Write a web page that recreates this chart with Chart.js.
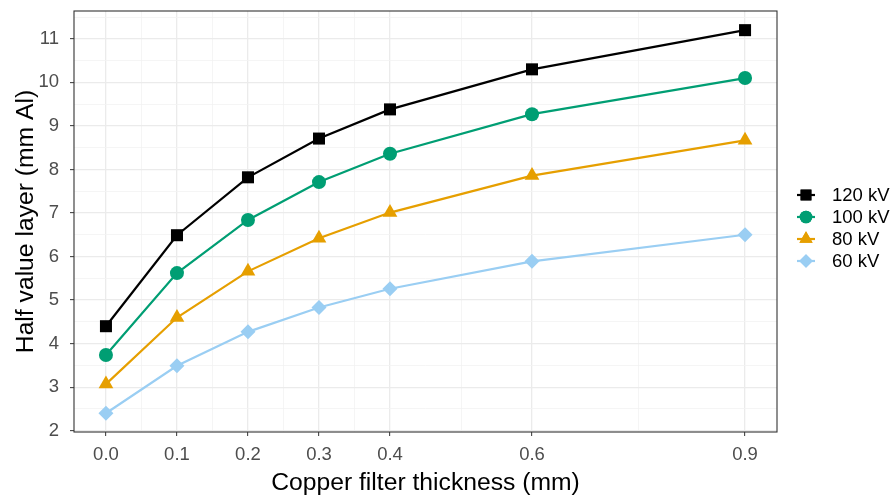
<!DOCTYPE html>
<html>
<head>
<meta charset="utf-8">
<script src="https://cdn.jsdelivr.net/npm/chart.js@4/dist/chart.umd.min.js"></script>
<style>
  html, body { margin: 0; padding: 0; background: #fff; }
  #wrap { width: 895px; height: 498px; }
</style>
</head>
<body>
<div id="wrap"><canvas id="chart" width="895" height="498"></canvas></div>
<script>
'use strict'

const thickness = [0.0, 0.1, 0.2, 0.3, 0.4, 0.6, 0.9]
const hvl120 = [4.40, 6.49, 7.82, 8.71, 9.38, 10.30, 11.20]
const hvl100 = [3.74, 5.62, 6.84, 7.71, 8.36, 9.27, 10.10]
const hvl80 = [3.07, 4.60, 5.66, 6.42, 7.01, 7.86, 8.67]
const hvl60 = [2.40, 3.49, 4.27, 4.83, 5.26, 5.89, 6.50]

const seriesNames = ['120 kV', '100 kV', '80 kV', '60 kV']
const xTicks = [0.0, 0.1, 0.2, 0.3, 0.4, 0.6, 0.9]
const xLabels = ['0.0', '0.1', '0.2', '0.3', '0.4', '0.6', '0.9']
const xMinor = [0.05, 0.15, 0.25, 0.35, 0.5, 0.75]
const yTicks = [2, 3, 4, 5, 6, 7, 8, 9, 10, 11]
const yMinor = [2.5, 3.5, 4.5, 5.5, 6.5, 7.5, 8.5, 9.5, 10.5, 11.5]

const colors = ['#000000', '#009E73', '#E69F00', '#9ACEF3']
const shapes = ['rect', 'circle', 'triangle', 'rectRot']
const radii = [8.5, 7, 8.5, 7.5]
const values = [hvl120, hvl100, hvl80, hvl60]

const FONT = '"Liberation Sans", Arial, sans-serif'

const ctx = document.getElementById('chart')

const datasets = values.map((vals, i) => ({
  label: seriesNames[i],
  data: thickness.map((x, j) => ({ x: x, y: vals[j] })),
  borderColor: colors[i],
  backgroundColor: colors[i],
  borderWidth: 2.2,
  pointStyle: shapes[i],
  pointRadius: radii[i],
  pointHoverRadius: radii[i],
  pointBorderWidth: 0,
  tension: 0,
}))

// ggplot-like panel border and legend
const panelPlugin = {
  id: 'panel',
  afterDraw(chart) {
    const c = chart.ctx
    const a = chart.chartArea
    c.save()
    c.strokeStyle = '#333333'
    c.lineWidth = 1.1
    c.strokeRect(a.left, a.top, a.right - a.left, a.bottom - a.top)

    const x0 = 806
    const rowY = [195, 217, 239, 261]
    c.font = '18.5px ' + FONT
    c.textBaseline = 'middle'
    c.textAlign = 'left'
    seriesNames.forEach((name, i) => {
      const y = rowY[i]
      c.strokeStyle = colors[i]
      c.lineWidth = 2.2
      c.beginPath()
      c.moveTo(x0 - 9, y)
      c.lineTo(x0 + 9, y)
      c.stroke()
      c.fillStyle = colors[i]
      Chart.helpers.drawPoint(c, {
        pointStyle: shapes[i],
        radius: radii[i] * 0.9,
        rotation: 0,
        borderWidth: 0,
      }, x0, y)
      c.fill()
      c.fillStyle = '#000000'
      c.fillText(name, 832, y + 1)
    })
    c.restore()
  }
}

const isMinor = (v, list) => list.some(m => Math.abs(m - v) < 1e-6)

const chart = new Chart(ctx, {
  type: 'line',
  data: { datasets: datasets },
  options: {
    responsive: false,
    animation: false,
    layout: { padding: { top: 11, right: 118, left: 0, bottom: 0 } },
    plugins: {
      legend: { display: false },
      tooltip: { enabled: false },
    },
    scales: {
      x: {
        type: 'linear',
        min: -0.045,
        max: 0.945,
        afterBuildTicks(scale) {
          scale.ticks = xTicks.concat(xMinor).sort((a, b) => a - b).map(v => ({ value: v }))
        },
        afterFit(scale) {
          scale.height = 66
          scale.paddingLeft = 0
          scale.paddingRight = 0
        },
        ticks: {
          color: '#4D4D4D',
          font: { family: FONT, size: 18.5 },
          padding: 8,
          autoSkip: false,
          maxRotation: 0,
          callback(v) {
            const k = xTicks.findIndex(t => Math.abs(t - v) < 1e-6)
            return k >= 0 ? xLabels[k] : ''
          },
        },
        grid: {
          color: c => isMinor(c.tick.value, xMinor) ? '#F2F2F2' : '#EBEBEB',
          lineWidth: c => isMinor(c.tick.value, xMinor) ? 0.8 : 1.3,
          tickColor: c => isMinor(c.tick.value, xMinor) ? 'rgba(0,0,0,0)' : '#333333',
          tickLength: 4,
          tickWidth: 1,
        },
        border: { display: false },
        title: {
          display: true,
          text: 'Copper filter thickness (mm)',
          color: '#000000',
          font: { family: FONT, size: 24.7 },
          padding: { top: 0, bottom: 0 },
        },
      },
      y: {
        type: 'linear',
        min: 1.97,
        max: 11.64,
        afterBuildTicks(scale) {
          scale.ticks = yTicks.concat(yMinor).sort((a, b) => a - b).map(v => ({ value: v }))
        },
        afterFit(scale) {
          scale.width = 74
          scale.paddingTop = 0
          scale.paddingBottom = 0
        },
        ticks: {
          color: '#4D4D4D',
          font: { family: FONT, size: 18.5 },
          padding: 11,
          autoSkip: false,
          callback(v) {
            return yTicks.includes(v) ? String(v) : ''
          },
        },
        grid: {
          color: c => isMinor(c.tick.value, yMinor) ? '#F2F2F2' : '#EBEBEB',
          lineWidth: c => isMinor(c.tick.value, yMinor) ? 0.8 : 1.3,
          tickColor: c => isMinor(c.tick.value, yMinor) ? 'rgba(0,0,0,0)' : '#333333',
          tickLength: 4,
          tickWidth: 1,
        },
        border: { display: false },
        title: {
          display: true,
          text: 'Half value layer (mm Al)',
          color: '#000000',
          font: { family: FONT, size: 24.7 },
          padding: { top: 11, bottom: 0 },
        },
      },
    },
  },
  plugins: [panelPlugin],
})
</script>
</body>
</html>
